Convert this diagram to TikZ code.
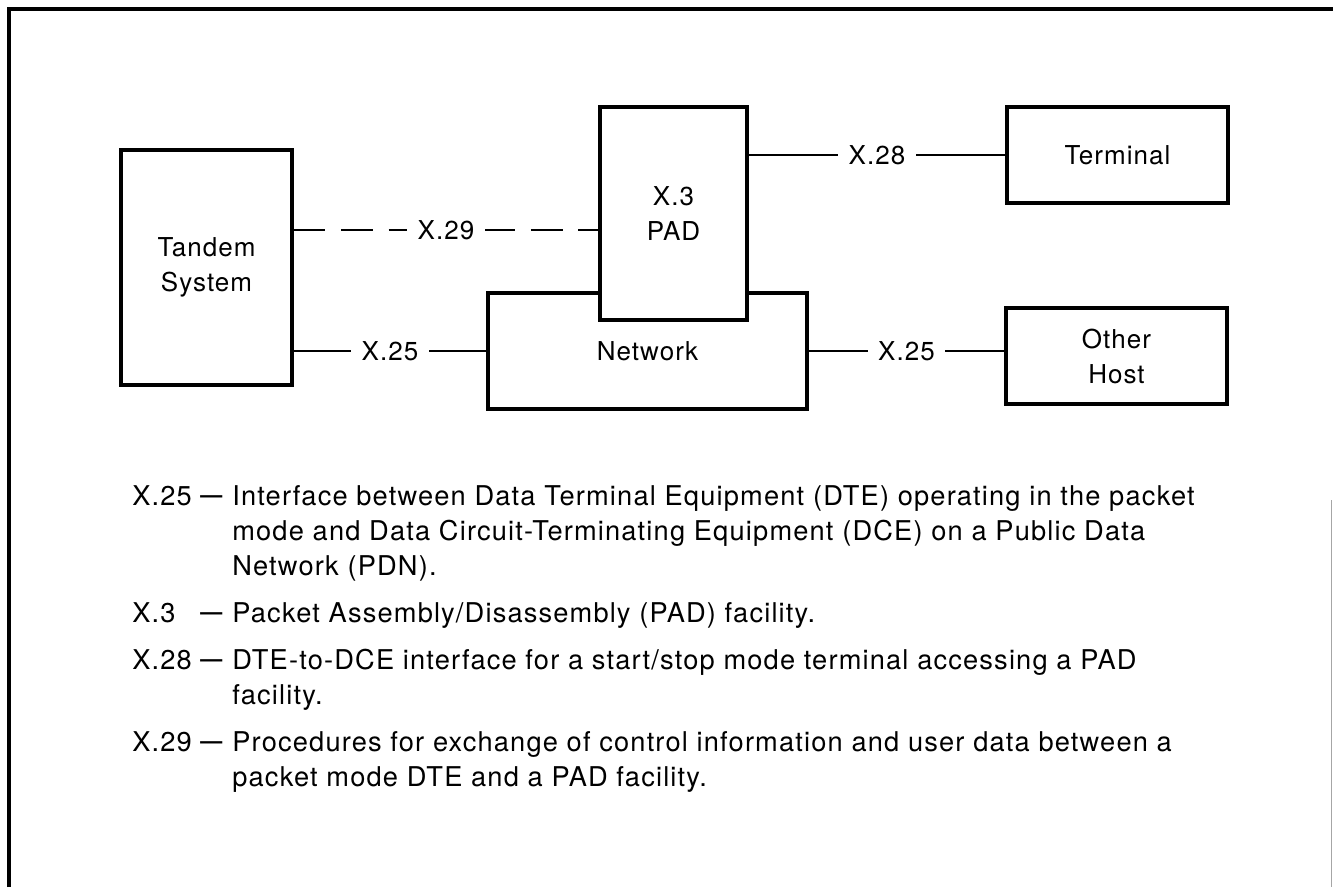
\documentclass[tikz,border=0pt]{standalone}
\usepackage{fontspec}
\setmainfont{TeX Gyre Heros}
\newfontfamily\diagfont[LetterSpace=4]{TeX Gyre Heros}
\newfontfamily\legendfont[LetterSpace=4.3]{TeX Gyre Heros}
\usetikzlibrary{positioning,calc}

\begin{document}
\begin{tikzpicture}[
    x=0.02cm, y=-0.02cm,
    every node/.style={font=\diagfont\fontsize{14.8}{19.9}\selectfont},
    box/.style={rectangle, draw=black, line width=2pt, fill=white, align=center, inner sep=0pt},
    link/.style={line width=1.1pt},
    dashlink/.style={line width=1.1pt, dash pattern=on 18pt off 9pt},
    lbl/.style={fill=white, inner xsep=6pt, inner ysep=1pt},
    frame/.style={line width=2.5pt},
    legend/.style={anchor=base west, align=left, inner sep=0pt, font=\legendfont\fontsize{15.5}{19.9}\selectfont},
    legdash/.style={anchor=base west, inner sep=0pt, yshift=1.3pt, font=\bfseries\fontsize{12.5}{19.9}\selectfont}
]
\useasboundingbox (0,0) rectangle (1333,887);

% Frame
\draw[frame] (9,887) -- (9,9) -- (1333,9);
\draw[black!35, line width=0.4pt] (1331,500) -- (1331,887);

% Boxes
\node[box, minimum width=3.42cm, minimum height=4.70cm] (tandem) at (206.5,267.5) {Tandem\\System};
\node[box, minimum width=6.38cm, minimum height=2.32cm] (network) at (647.5,351) {Network};
\node[box, minimum width=2.94cm, minimum height=4.26cm] (pad) at (673.5,213.5) {X.3\\PAD};
\node[box, minimum width=4.42cm, minimum height=1.92cm] (terminal) at (1117.5,155) {Terminal};
\node[box, minimum width=4.42cm, minimum height=1.92cm] (host) at (1116.5,356) {Other\\Host};

% Connectors
\draw[dashlink] (tandem.east |- 0,230) -- (pad.west |- 0,230) node[midway, lbl] {X.29};
\draw[link] (tandem.east |- network.west) -- (network.west) node[midway, lbl] {X.25};
\draw[link] (pad.east |- terminal.west) -- (terminal.west) node[midway, lbl] {X.28};
\draw[link] (network.east) -- (network.east -| host.west) node[midway, lbl] {X.25};

% Legend (text nodes sit on the baseline of their last line)
\node[legend] (x25key) at (132,505) {X.25};
\node[legdash] (x25dash) at (200,505) {—};
\node[legend] (x25text) at (232,575) {Interface between Data Terminal Equipment (DTE) operating in the packet\\mode and Data Circuit-Terminating Equipment (DCE) on a Public Data\\Network (PDN).};

\node[legend] (x3key) at (132,622) {X.3};
\node[legdash] (x3dash) at (200,622) {—};
\node[legend] (x3text) at (232,622) {Packet Assembly/Disassembly (PAD) facility.};

\node[legend] (x28key) at (132,669) {X.28};
\node[legdash] (x28dash) at (200,669) {—};
\node[legend] (x28text) at (232,704) {DTE-to-DCE interface for a start/stop mode terminal accessing a PAD\\facility.};

\node[legend] (x29key) at (132,751) {X.29};
\node[legdash] (x29dash) at (200,751) {—};
\node[legend] (x29text) at (232,786) {Procedures for exchange of control information and user data between a\\packet mode DTE and a PAD facility.};

\end{tikzpicture}
\end{document}
